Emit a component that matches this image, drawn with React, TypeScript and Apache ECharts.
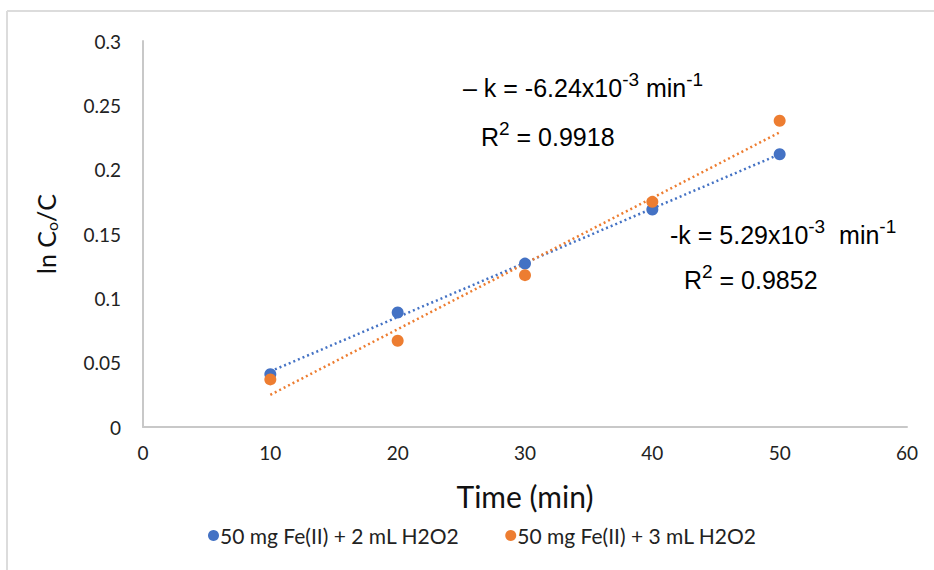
import React, { useEffect, useRef } from "react";
import * as echarts from "echarts";

const times = [10, 20, 30, 40, 50];
const series2mL = [0.041, 0.089, 0.127, 0.169, 0.212];
const series3mL = [0.037, 0.067, 0.118, 0.175, 0.238];
const seriesNames = ["50 mg Fe(II) + 2 mL H2O2", "50 mg Fe(II) + 3 mL H2O2"];
const colors = ["#4472C4", "#ED7D31"];

function fit(xs: number[], ys: number[]) {
  const n = xs.length;
  const mx = xs.reduce((a, b) => a + b, 0) / n;
  const my = ys.reduce((a, b) => a + b, 0) / n;
  let sxy = 0, sxx = 0;
  for (let i = 0; i < n; i++) {
    sxy += (xs[i] - mx) * (ys[i] - my);
    sxx += (xs[i] - mx) * (xs[i] - mx);
  }
  const m = sxy / sxx;
  const b = my - m * mx;
  const x0 = xs[0], x1 = xs[n - 1];
  return [[x0, m * x0 + b], [x1, m * x1 + b]];
}

const annoFont = "'Liberation Sans', Arial, sans-serif";
const labelFont = "Lato, 'Open Sans', sans-serif";

export default function App() {
  const ref = useRef<HTMLDivElement>(null);
  useEffect(() => {
    if (!ref.current) return;
    const chart = echarts.init(ref.current, null, { renderer: "svg" });
    const rich = {
      t: { fontFamily: annoFont, fontSize: 25, color: "#222", verticalAlign: "bottom", lineHeight: 30 },
      sup: { fontFamily: annoFont, fontSize: 19, color: "#222", verticalAlign: "top", lineHeight: 30, padding: [0, 0, 14, 0] },
    };
    chart.setOption({
      animation: false,
      backgroundColor: "#fff",
      color: colors,
      grid: { left: 143, right: 27, top: 41, bottom: 143, containLabel: false },
      xAxis: {
        type: "value",
        min: 0,
        max: 60,
        interval: 10,
        name: "Time (min)",
        nameLocation: "middle",
        nameGap: 54,
        nameTextStyle: { fontFamily: labelFont, fontSize: 30, color: "#111" },
        axisLine: { show: true, lineStyle: { color: "#C8C8C8", width: 2 } },
        axisTick: { show: false },
        splitLine: { show: false },
        axisLabel: { fontFamily: labelFont, fontSize: 19, color: "#222", margin: 16 },
      },
      yAxis: {
        type: "value",
        min: 0,
        max: 0.3,
        interval: 0.05,
        name: "{a|ln C}{s|o}{a|/C}",
        nameLocation: "middle",
        nameGap: 84,
        nameRotate: 90,
        nameTextStyle: {
          rich: {
            a: { fontFamily: labelFont, fontSize: 25, color: "#111" },
            s: { fontFamily: labelFont, fontSize: 16, color: "#111", padding: [10, 0, 0, 0] },
          },
        },
        axisLine: { show: true, lineStyle: { color: "#C8C8C8", width: 2 } },
        axisTick: { show: false },
        splitLine: { show: false },
        axisLabel: { fontFamily: labelFont, fontSize: 19, color: "#222", margin: 22 },
      },
      legend: {
        top: 520,
        left: 203,
        itemGap: 46,
        itemWidth: 11,
        itemHeight: 11,
        icon: "circle",
        textStyle: { fontFamily: labelFont, fontSize: 21, color: "#222", padding: [0, 0, 0, -4] },
        data: seriesNames,
      },
      series: [
        {
          name: seriesNames[0],
          type: "scatter",
          data: times.map((t, i) => [t, series2mL[i]]),
          symbolSize: 12,
          itemStyle: { color: colors[0], opacity: 1 },
          z: 3,
        },
        {
          name: seriesNames[1],
          type: "scatter",
          data: times.map((t, i) => [t, series3mL[i]]),
          symbolSize: 12,
          itemStyle: { color: colors[1], opacity: 1 },
          z: 4,
        },
        {
          name: seriesNames[0],
          type: "line",
          data: fit(times, series2mL),
          showSymbol: false,
          symbol: "none",
          itemStyle: { color: colors[0] },
          lineStyle: { type: [2, 3], width: 2.5, color: colors[0] },
          z: 1,
          silent: true,
        },
        {
          name: seriesNames[1],
          type: "line",
          data: fit(times, series3mL),
          showSymbol: false,
          symbol: "none",
          itemStyle: { color: colors[1] },
          lineStyle: { type: [2, 3], width: 2.5, color: colors[1] },
          z: 1,
          silent: true,
        },
      ],
      graphic: [
        { type: "line", shape: { x1: 7, y1: 11, x2: 934, y2: 11 }, style: { stroke: "#DCDCDC", lineWidth: 2 } },
        { type: "line", shape: { x1: 7, y1: 11, x2: 7, y2: 570 }, style: { stroke: "#DCDCDC", lineWidth: 2 } },
        {
          type: "text",
          left: 463,
          top: 70,
          style: { text: "{t|– k = -6.24x10}{sup|-3}{t| min}{sup|-1}", rich },
        },
        {
          type: "text",
          left: 481,
          top: 119,
          style: { text: "{t|R}{sup|2}{t| = 0.9918}", rich },
        },
        {
          type: "text",
          left: 670,
          top: 217,
          style: { text: "{t|-k = 5.29x10}{sup|-3}{t|  min}{sup|-1}", rich },
        },
        {
          type: "text",
          left: 684,
          top: 262,
          style: { text: "{t|R}{sup|2}{t| = 0.9852}", rich },
        },
      ],
    });
    return () => chart.dispose();
  }, []);
  return (
    <div
      ref={ref}
      style={{ position: "fixed", left: 0, top: 0, width: 934, height: 570, background: "#fff" }}
    />
  );
}
